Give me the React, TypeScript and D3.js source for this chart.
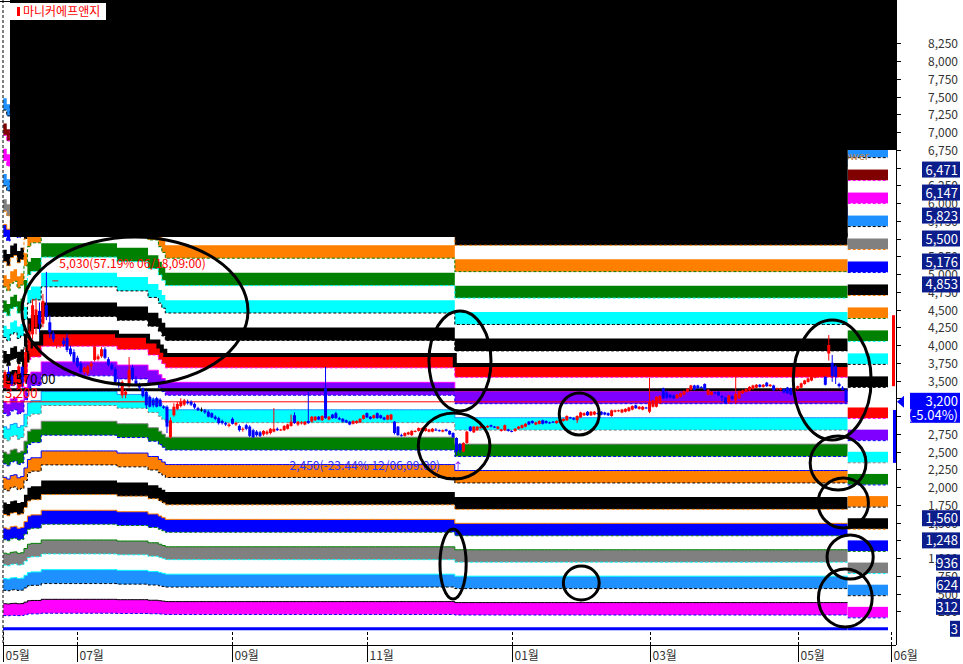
import React from "react";
import * as d3 from "d3";

// daily candles [open, high, low, close]
const ohlc: [number, number, number, number][] = [
  [3500,3650,3450,3620],[3620,3700,3540,3570],[3560,3590,3420,3450],[3460,3630,3440,3600],[3580,3730,3540,3700],
  [3690,3710,3400,3470],[3480,3960,3460,3900],[3920,4300,3880,4200],[4150,4650,4080,4560],[4250,4660,4150,4500],
  [4480,4600,4180,4300],[4300,4720,4250,4620],[4560,5030,4350,4400],[4320,4420,4100,4180],[4160,4200,4040,4080],
  [4000,4120,3950,4080],[4020,4110,3960,4060],[4060,4100,3980,4010],[4100,4160,3900,3930],[3950,3990,3840,3870],
  [3900,3940,3740,3760],[3820,3850,3680,3700],[3740,3770,3600,3620],[3620,3700,3590,3680],[3600,3720,3570,3700],
  [3700,3770,3650,3740],[3790,4060,3770,3980],[3800,3870,3780,3840],[3840,3970,3820,3940],[3940,3970,3800,3820],
  [3800,3830,3700,3720],[3720,3750,3640,3660],[3660,3690,3450,3480],[3480,3520,3400,3450],[3290,3500,3250,3480],
  [3300,3370,3250,3340],[3420,3830,3400,3650],[3680,3720,3500,3520],[3500,3560,3420,3440],[3440,3470,3370,3400],
  [3390,3400,3260,3280],[3340,3360,3100,3150],[3270,3290,3120,3130],[3230,3260,3120,3150],[3250,3270,3120,3130],
  [3230,3250,3130,3140],[3130,3150,3100,3120],[3130,3150,2760,2850],[2700,2980,2680,2940],[3010,3180,2990,3130],
  [3100,3200,3080,3170],[3140,3250,3120,3200],[3160,3240,3140,3220],[3200,3230,3160,3180],[3200,3220,3140,3160],
  [3170,3190,3100,3120],[3110,3130,3070,3080],[3090,3120,3060,3090],[3080,3100,3030,3050],[3060,3080,2980,2990],
  [3040,3050,2970,2980],[2990,3010,2940,2960],[2970,2990,2880,2900],[2930,2950,2880,2900],[2900,2920,2860,2880],
  [2860,2900,2840,2880],[2960,2980,2880,2890],[2880,2920,2860,2900],[2860,2880,2780,2800],[2810,2840,2780,2820],
  [2870,2890,2800,2820],[2850,2870,2700,2720],[2800,2820,2690,2700],[2780,2800,2710,2730],[2770,2790,2700,2720],
  [2740,2800,2720,2790],[2750,2800,2730,2780],[2760,2830,2740,2820],[2780,3110,2770,2820],[2820,2840,2790,2800],
  [2800,2820,2790,2810],[2800,2870,2790,2860],[2820,2890,2810,2880],[2860,3020,2850,2920],[3010,3050,2890,2900],
  [2880,2930,2860,2920],[2900,2930,2880,2910],[2880,2930,2870,2920],[2930,3340,2890,2900],[2920,3000,2910,2990],
  [2940,3000,2930,2990],[2990,3000,2940,2950],[2940,3010,2930,3000],[3390,3690,2960,2970],[2950,3000,2940,2990],
  [3020,3030,2960,2970],[3040,3060,2960,2970],[2970,2990,2940,2950],[2960,2970,2910,2920],[2940,2950,2900,2910],
  [2920,2930,2870,2880],[2890,2940,2880,2930],[2900,2940,2890,2930],[2910,2970,2900,2960],[2960,3020,2950,3010],
  [3040,3050,2970,2980],[2990,3000,2950,2960],[2970,3020,2960,3010],[3040,3050,2960,2970],[3010,3020,2960,2970],
  [2980,2990,2940,2950],[2950,3020,2940,3010],[2950,3030,2940,3020],[2920,2930,2740,2760],[2850,2860,2720,2730],
  [2730,2750,2710,2720],[2720,2770,2710,2760],[2740,2780,2730,2770],[2730,2800,2720,2790],[2780,2800,2770,2790],
  [2790,2840,2780,2830],[2780,2840,2770,2830],[2790,2840,2780,2830],[2780,2820,2770,2810],[2780,2830,2770,2820],
  [2810,2830,2790,2800],[2800,2810,2780,2790],[2780,2810,2770,2800],[2810,2820,2780,2790],[2790,2800,2730,2740],
  [2760,2770,2690,2700],[2690,2700,2450,2500],[2600,2620,2480,2520],[2500,2630,2490,2620],[2620,2790,2610,2780],
  [2850,2860,2780,2790],[2770,2860,2760,2850],[2800,2860,2790,2850],[2830,2860,2820,2850],[2820,2860,2810,2850],
  [2840,2870,2830,2860],[2870,2880,2840,2850],[2850,2860,2830,2840],[2820,2860,2810,2850],[2790,2820,2780,2810],
  [2800,2880,2790,2870],[2810,2820,2780,2790],[2790,2800,2770,2780],[2790,2830,2780,2820],[2820,2860,2810,2850],
  [2830,2880,2820,2870],[2850,2900,2840,2890],[2920,2930,2870,2880],[2930,2940,2890,2900],[2880,2920,2870,2910],
  [2890,2940,2880,2930],[2940,2950,2880,2890],[2930,2940,2890,2900],[2910,2920,2890,2900],[2920,2930,2900,2910],
  [2900,2940,2890,2930],[2910,2960,2900,2950],[2930,2970,2920,2960],[2940,3010,2930,3000],[2980,2990,2960,2970],
  [2970,2980,2940,2950],[2940,3010,2900,3000],[2980,3060,2970,3050],[3010,3050,3000,3040],[3060,3070,3000,3010],
  [3010,3070,3000,3060],[3020,3070,3010,3060],[3040,3050,3020,3030],[3060,3070,3010,3020],[3050,3060,3010,3020],
  [3040,3050,3000,3010],[3000,3090,2990,3080],[3060,3090,3050,3080],[3070,3090,3060,3080],[3050,3100,3040,3090],
  [3060,3110,3050,3100],[3070,3130,3060,3120],[3090,3150,3080,3140],[3150,3160,3100,3110],[3100,3140,3090,3130],
  [3090,3140,3080,3130],[3120,3130,3100,3110],[3060,3540,3040,3200],[3130,3230,3120,3220],[3130,3280,3120,3270],
  [3180,3290,3170,3280],[3390,3400,3240,3250],[3330,3360,3240,3260],[3300,3310,3250,3260],[3290,3300,3240,3250],
  [3250,3310,3240,3300],[3270,3330,3260,3320],[3300,3360,3290,3350],[3340,3390,3330,3380],[3370,3440,3360,3430],
  [3430,3440,3360,3370],[3430,3440,3380,3390],[3410,3420,3390,3400],[3450,3460,3360,3370],[3300,3380,3290,3370],
  [3300,3350,3290,3340],[3330,3340,3310,3320],[3340,3350,3280,3290],[3280,3290,3200,3260],[3260,3270,3170,3180],
  [3200,3300,3170,3290],[3280,3290,3230,3240],[3220,3550,3170,3310],[3250,3360,3240,3350],[3320,3370,3310,3360],
  [3340,3390,3330,3380],[3360,3420,3350,3410],[3380,3440,3370,3430],[3400,3450,3390,3440],[3440,3450,3400,3410],
  [3410,3450,3400,3440],[3470,3480,3410,3420],[3420,3450,3410,3440],[3430,3440,3350,3360],[3380,3400,3370,3390],
  [3370,3400,3360,3390],[3380,3390,3320,3330],[3400,3410,3310,3320],[3390,3400,3290,3300],[3340,3400,3330,3390],
  [3380,3430,3370,3420],[3400,3470,3390,3460],[3450,3510,3440,3500],[3480,3540,3470,3530],[3500,3570,3490,3560],
  [3540,3600,3530,3590],[3550,3630,3540,3620],[3570,3640,3560,3630],[3550,3560,3430,3440],[3880,4140,3780,4000],
  [3750,3860,3480,3560],[3700,3720,3450,3550],[3450,3470,3400,3420],[3400,3420,3360,3370],[3370,3390,3180,3200],
];

// envelope unit (won per band) from the given day onward
const unitSteps: [number, number][] = [
  [0, 356], [1, 352], [2, 360], [3, 362], [4, 355], [5, 358], [6, 378], [7, 398], [8, 402],
  [11, 418], [33, 413], [42, 405], [45, 398], [46, 392], [47, 386], [131, 372],
];

// levels of the right-hand projection strip (band 1..21)
const stripLevels = [312, 624, 936, 1248, 1560, 1872, 2184, 2496, 2808, 3120, 3558, 3882, 4206, 4529, 4853, 5176, 5500, 5823, 6147, 6471, 6794];
const boxedLevels = [6471, 6147, 5823, 5500, 5176, 4853, 1560, 1248, 936, 624, 312, 3];

const monthLabels = ["05월", "07월", "09월", "11월", "01월", "03월", "05월", "06월"];
const monthIdx = [-0.6, 21, 66, 105, 147, 187, 230, 257];

const lastClose = 3200;
const prevClose = 3370;
const highMark = { i: 12, v: 5030, text: "5,030(57.19% 06/18,09:00)" };
const lowMark = { i: 131, v: 2450, text: "2,450(-23.44% 12/06,09:00)" };

// hand drawn ellipses: [centre day, centre price, half width days, half height won]
const rings: [number, number, number, number][] = [
  [37.7, 4479, 32.8, 1042], [132.0, 3775, 9.0, 704], [130.3, 2577, 10.4, 465], [166.6, 3028, 5.8, 296],
  [130.0, 915, 3.8, 493], [167.2, 648, 5.2, 239], [240.0, 3507, 11.3, 845], [241.7, 2338, 8.1, 380],
  [243.2, 1775, 7.3, 352], [245.2, 1014, 6.7, 310], [243.8, 437, 7.8, 408],
];

const bandFill = ["#ff00ff", "#1e90ff", "#808080", "#0000ff", "#000000", "#ff8000", "#008000", "#00ffff", "#8000ff", "#ff0000",
  "#000000", "#00ffff", "#008000", "#ff8000", "#000000", "#0000ff", "#808080", "#1e90ff", "#ff00ff", "#800000", "#1e90ff"];
const bandTop: (string | null)[] = ["#000000", "#00ffff", "#008000", "#ff8000", null, "#0000ff", "#808080", "#1e90ff", "#ff00ff", "#000000",
  null, null, null, null, null, "#ff8000", null, null, null, null, null];
const bandDash = ["#0000ff", "#000000", "#00ffff", "#008000", "#ff8000", "#000000", "#0000ff", "#808080", "#0000ff", "#ff00ff",
  "#000000", "#000000", "#00ffff", "#008000", "#ff8000", "#0000ff", "#ff8000", "#000000", "#ff00ff", "#ff00ff", "#000000"];

const FONT = "'Noto Sans CJK KR', 'Noto Sans', sans-serif";

function unitAt(i: number) {
  let u = unitSteps[0][1];
  for (const [s, v] of unitSteps) if (i >= s) u = v;
  return u;
}

export default function App() {
  const n = ohlc.length;
  const x = d3.scaleLinear().domain([0, n - 1]).range([5, 846]);
  const y = d3.scaleLinear().domain([0, 8250]).range([629, 43.25]);
  const dx = x(1) - x(0);
  const idx = d3.range(n + 1);
  const thick = 0.47;

  const bands = bandFill.map((fill, j) => {
    const k = j + 1;
    const area = d3.area<number>()
      .x((i) => x(i) - dx / 2)
      .y0((i) => y((k - thick) * unitAt(i)))
      .y1((i) => y(k * unitAt(i)))
      .curve(d3.curveStepAfter);
    const top = d3.line<number>().x((i) => x(i) - dx / 2).y((i) => y(k * unitAt(i))).curve(d3.curveStepAfter);
    const bot = d3.line<number>().x((i) => x(i) - dx / 2).y((i) => y((k - thick) * unitAt(i))).curve(d3.curveStepAfter);
    return { k, fill, area: area(idx), top: top(idx), bot: bot(idx) };
  });

  const xEnd = x(n - 1) + dx / 2;
  const stripL = xEnd, stripR = 888;
  const priceTicks = d3.range(250, 8251, 250);
  const fmt = d3.format(",");

  const candleColor = (o: number, c: number) => (c > o ? "#ff0000" : c < o ? "#0000ff" : "#000000");

  return (
    <svg width={963} height={664} style={{ position: "fixed", left: 0, top: 0, background: "#fff" }} fontFamily={FONT}>
      <rect x={0} y={0} width={963} height={664} fill="#fff" />

      {/* envelope bands */}
      {bands.map((b) => (
        <g key={b.k}>
          <path d={b.area ?? ""} fill={b.fill} />
          <path d={b.bot ?? ""} fill="none" stroke={bandDash[b.k - 1]} strokeWidth={1} strokeDasharray="3,2" />
          {bandTop[b.k - 1] && (
            <path d={b.top ?? ""} fill="none" stroke={bandTop[b.k - 1]!} strokeWidth={b.k === 10 ? 4 : 1} />
          )}
        </g>
      ))}
      <line x1={3} x2={xEnd} y1={y(3)} y2={y(3)} stroke="#0000ff" strokeWidth={3} />

      {/* projection strip */}
      <rect x={stripL} y={150} width={896 - stripL} height={482} fill="#fff" />
      {stripLevels.map((v, j) => (
        <g key={"s" + j}>
          <rect x={stripL} y={y(v)} width={stripR - stripL} height={y(v - 150) - y(v)} fill={bandFill[j]} />
          <line x1={stripL} x2={stripR} y1={y(v - 155)} y2={y(v - 155)} stroke={bandDash[j]} strokeDasharray="3,2" />
        </g>
      ))}
      <line x1={stripL} x2={stripR} y1={y(3)} y2={y(3)} stroke="#0000ff" strokeWidth={3} />
      <text x={869} y={160} fontSize={11} fill="#c08040" textAnchor="end">Power</text>

      {/* reference lines */}
      <line x1={3} x2={xEnd} y1={y(prevClose)} y2={y(prevClose)} stroke="#000" strokeWidth={3} />
      <line x1={3} x2={xEnd} y1={y(lastClose)} y2={y(lastClose)} stroke="#ff0000" strokeWidth={1} />

      {/* candles */}
      {ohlc.map(([o, h, l, c], i) => {
        const col = candleColor(o, c);
        const yt = y(Math.max(o, c));
        const hgt = Math.max(1, Math.abs(y(o) - y(c)));
        return (
          <g key={"c" + i}>
            <line x1={x(i)} x2={x(i)} y1={y(h)} y2={y(l)} stroke={col} strokeWidth={1} />
            <rect x={x(i) - 1.5} y={yt} width={3} height={hgt} fill={col} />
          </g>
        );
      })}

      {/* labels on chart */}
      <text x={5} y={384} fontSize={13} fill="#000">{fmt(prevClose) + ".00"}</text>
      <text x={5} y={398} fontSize={13} fill="#ff0000">{fmt(lastClose)}</text>
      <line x1={x(highMark.i) + 6} x2={x(highMark.i) + 12} y1={y(highMark.v) + 9} y2={y(highMark.v) + 9} stroke="#ff0000" />
      <text x={x(highMark.i) + 13} y={268} fontSize={12} fill="#ff0000">{highMark.text}</text>
      <text x={x(lowMark.i) - 167} y={470} fontSize={12} fill="#3030ff">{lowMark.text}</text>
      <text x={x(lowMark.i) - 4} y={471} fontSize={11} fill="#8000ff">↑</text>

      {/* black cover */}
      <rect x={10} y={0} width={886} height={150} fill="#000" />
      <rect x={10} y={150} width={stripL - 10} height={87} fill="#000" />
      <rect x={10} y={3} width={96} height={17} fill="#fff" />
      <line x1={0} x2={106} y1={1.5} y2={1.5} stroke="#000" />
      <rect x={17} y={7} width={3} height={9} fill="#ff0000" />
      <text x={23} y={16} fontSize={12} fill="#ff0000">마니커에프앤지</text>

      {/* rings */}
      {rings.map(([ci, cv, ri, rv], j) => (
        <ellipse key={"r" + j} cx={x(ci)} cy={y(cv)} rx={x(ri) - x(0)} ry={y(0) - y(rv)} fill="none" stroke="#000" strokeWidth={3} />
      ))}

      {/* left edge */}
      <line x1={3} x2={3} y1={0} y2={645} stroke="#000" strokeDasharray="3,2" />

      {/* bottom axis */}
      <line x1={3} x2={896} y1={645.5} y2={645.5} stroke="#000" />
      {monthLabels.map((m, j) => {
        const tx = Math.round(x(monthIdx[j])) + 0.5;
        return (
          <g key={"m" + j}>
            <line x1={tx} x2={tx} y1={632} y2={645} stroke="#000" strokeDasharray="3,2" />
            <line x1={tx} x2={tx} y1={646} y2={662} stroke="#000" />
            <text x={tx + 2} y={660} fontSize={12} fill="#333">{m}</text>
          </g>
        );
      })}

      {/* right axis */}
      <line x1={896.5} x2={896.5} y1={0} y2={645} stroke="#000" />
      <rect x={892} y={y(4420)} width={3} height={y(3420) - y(4420)} fill="#ff0000" />
      <rect x={893} y={y(3085)} width={3} height={y(2340) - y(3085)} fill="#0000ff" />
      {priceTicks.map((v) => (
        <g key={"t" + v}>
          <line x1={897} x2={901} y1={Math.round(y(v)) + 0.5} y2={Math.round(y(v)) + 0.5} stroke="#000" />
          <text x={958} y={y(v) + 5} fontSize={12} fill="#333" textAnchor="end">{fmt(v)}</text>
        </g>
      ))}
      {boxedLevels.map((v) => {
        const s = fmt(v);
        const w = s.length * 7 + 3;
        return (
          <g key={"b" + v}>
            <rect x={960 - w} y={y(v) - 8} width={w} height={16} fill="#0c1e8c" />
            <text x={958} y={y(v) + 5} fontSize={13} fill="#fff" textAnchor="end">{s}</text>
          </g>
        );
      })}
      <rect x={910} y={y(lastClose) - 9} width={50} height={30} fill="#0000ff" />
      <text x={958} y={y(lastClose) + 4} fontSize={13} fill="#fff" textAnchor="end">{fmt(lastClose)}</text>
      <text x={958} y={y(lastClose) + 18} fontSize={13} fill="#fff" textAnchor="end">(-5.04%)</text>
      <path d={`M897,${y(lastClose)} L904,${y(lastClose) - 6} L904,${y(lastClose) + 6} Z`} fill="#0000ff" />
    </svg>
  );
}
